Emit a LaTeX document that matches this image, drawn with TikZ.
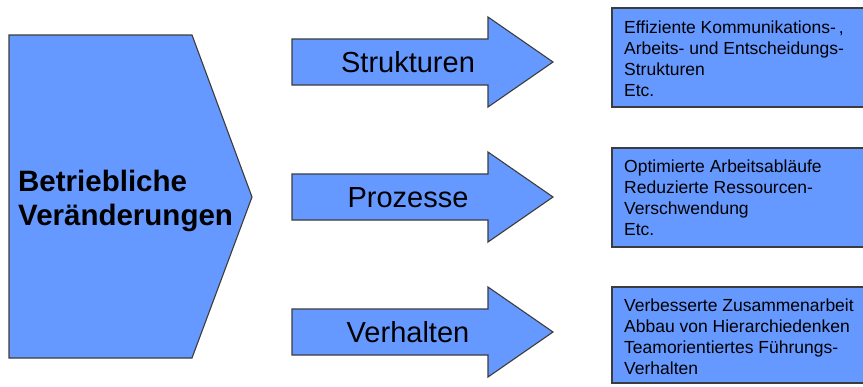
\documentclass[tikz,border=0pt]{standalone}
\usepackage{fontspec}
\setmainfont{Liberation Sans}
\begin{document}
\begin{tikzpicture}[x=1pt,y=-1pt,
  shapefill/.style={fill=blueA,draw=edgeA,line width=1.1pt,line join=miter},
  bigtext/.style={font=\fontsize{29.5}{34}\selectfont\bfseries,inner sep=0pt,anchor=base west},
  arrowtext/.style={font=\fontsize{29}{34}\selectfont,inner sep=0pt,anchor=base},
  boxtext/.style={font=\fontsize{17.5}{21.3}\selectfont,inner sep=0pt,anchor=base west}]
\definecolor{blueA}{RGB}{102,153,255}
\definecolor{edgeA}{RGB}{60,60,60}
\useasboundingbox[fill=white] (0,0) rectangle (863,386);

% large pentagon on the left
\path[shapefill] (9,35) -- (192,35) -- (252,197) -- (192,358) -- (9,358) -- cycle;
\node[bigtext] (main) at (18,191)
  {\parbox[t]{240pt}{\raggedright Betriebliche\\Veränderungen}};

% three block arrows
\foreach \yc/\nm/\txt in {62/s/Strukturen,197/p/Prozesse,332/v/Verhalten}{
  \path[shapefill] (292,\yc-23) -- (488,\yc-23) -- (488,\yc-45) -- (553,\yc)
    -- (488,\yc+45) -- (488,\yc+23) -- (292,\yc+23) -- cycle;
  \node[arrowtext] (\nm) at (408,\yc+10.4) {\txt};
}

% result boxes on the right (cut at the right edge)
\begin{scope}
\clip (0,0) rectangle (863,386);
\path[shapefill] (612,8) rectangle (880,107);
\path[shapefill] (612,148) rectangle (880,247);
\path[shapefill] (612,287) rectangle (880,383);
\end{scope}

\node[boxtext] (b1) at (624,33) {\parbox[t]{240pt}{\raggedright
  Effiziente Kommunikations-\,,\\Arbeits- und Entscheidungs-\\Strukturen\\Etc.}};
\node[boxtext] (b2) at (624,172) {\parbox[t]{240pt}{\raggedright
  Optimierte Arbeitsabläufe\\Reduzierte Ressourcen-\\Verschwendung\\Etc.}};
\node[boxtext] (b3) at (624,311) {\parbox[t]{240pt}{\raggedright
  Verbesserte Zusammenarbeit\\Abbau von Hierarchiedenken\\Teamorientiertes Führungs-\\Verhalten}};
\end{tikzpicture}
\end{document}
